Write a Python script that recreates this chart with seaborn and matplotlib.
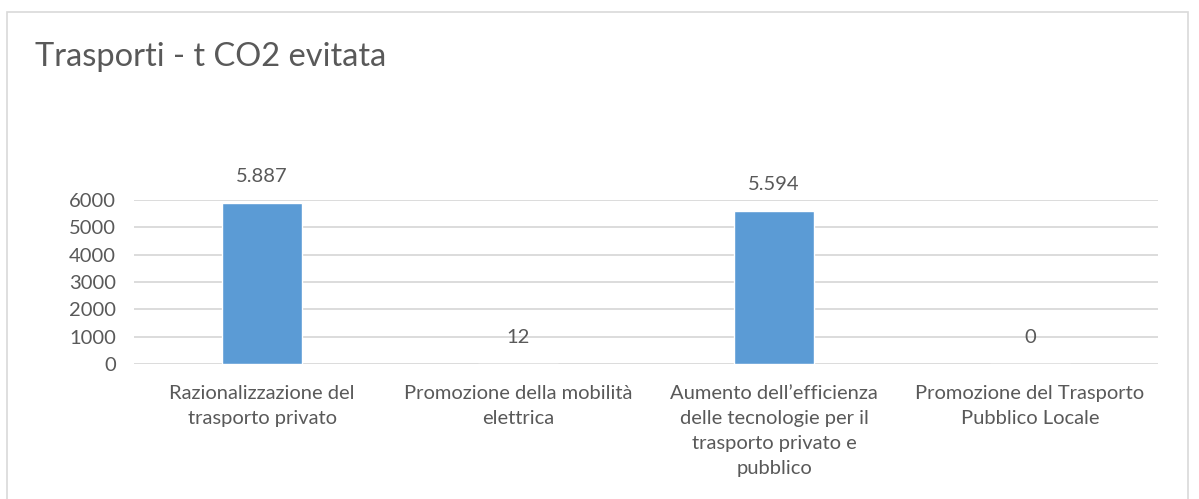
import matplotlib
matplotlib.use("Agg")
import matplotlib.pyplot as plt
import matplotlib.patches as mpatches
import seaborn as sns
import pandas as pd

categories = [
    "Razionalizzazione del\ntrasporto privato",
    "Promozione della mobilità\nelettrica",
    "Aumento dell\u2019efficienza\ndelle tecnologie per il\ntrasporto privato e\npubblico",
    "Promozione del Trasporto\nPubblico Locale",
]
values = [5887, 12, 5594, 0]
yticks = [0, 1000, 2000, 3000, 4000, 5000, 6000]
title = "Trasporti - t CO2 evitata"

sns.set_theme(style="white")
plt.rcParams["font.family"] = ["Lato", "DejaVu Sans"]

TXT = "#595959"
GRID = "#D9D9D9"
BAR = "#5B9BD5"

df = pd.DataFrame({"cat": categories, "val": values})

fig = plt.figure(figsize=(11.99, 4.99), dpi=100)
ax = fig.add_axes([134/1199, (499-364)/499, (1158-134)/1199, (364-200)/499])

sns.barplot(data=df, x="cat", y="val", color=BAR, width=0.31, ax=ax, saturation=1)

ax.set_ylim(0, 6000)
ax.set_yticks(yticks)
ax.set_yticklabels([str(t) for t in yticks], color=TXT, fontsize=14.5)
ax.yaxis.grid(True, color=GRID, linewidth=1.3)
ax.set_axisbelow(True)
for s in ax.spines.values():
    s.set_visible(False)
ax.tick_params(axis="both", length=0)
ax.tick_params(axis="y", pad=13)
ax.tick_params(axis="x", pad=15)
ax.set_xticks(range(len(categories)))
ax.set_xticklabels(categories, color=TXT, fontsize=14.5, linespacing=1.58, va="top")
ax.set_xlabel("")
ax.set_ylabel("")

for i, v in enumerate(values):
    ax.annotate(f"{v:,}".replace(",", "."), xy=(i, v), xytext=(0, 19),
                textcoords="offset points", ha="center", va="center",
                color=TXT, fontsize=14.5, annotation_clip=False)

fig.text(35/1199, 1 - 57/499, title, color=TXT, fontsize=23.5, va="center", ha="left")

border = mpatches.Rectangle((7/1199, -0.05), (1188-7)/1199, 1.05 - 12/499,
                            transform=fig.transFigure, fill=False,
                            edgecolor=GRID, linewidth=1.2)
fig.patches.append(border)

fig.savefig("out.png", dpi=100, facecolor="white")
